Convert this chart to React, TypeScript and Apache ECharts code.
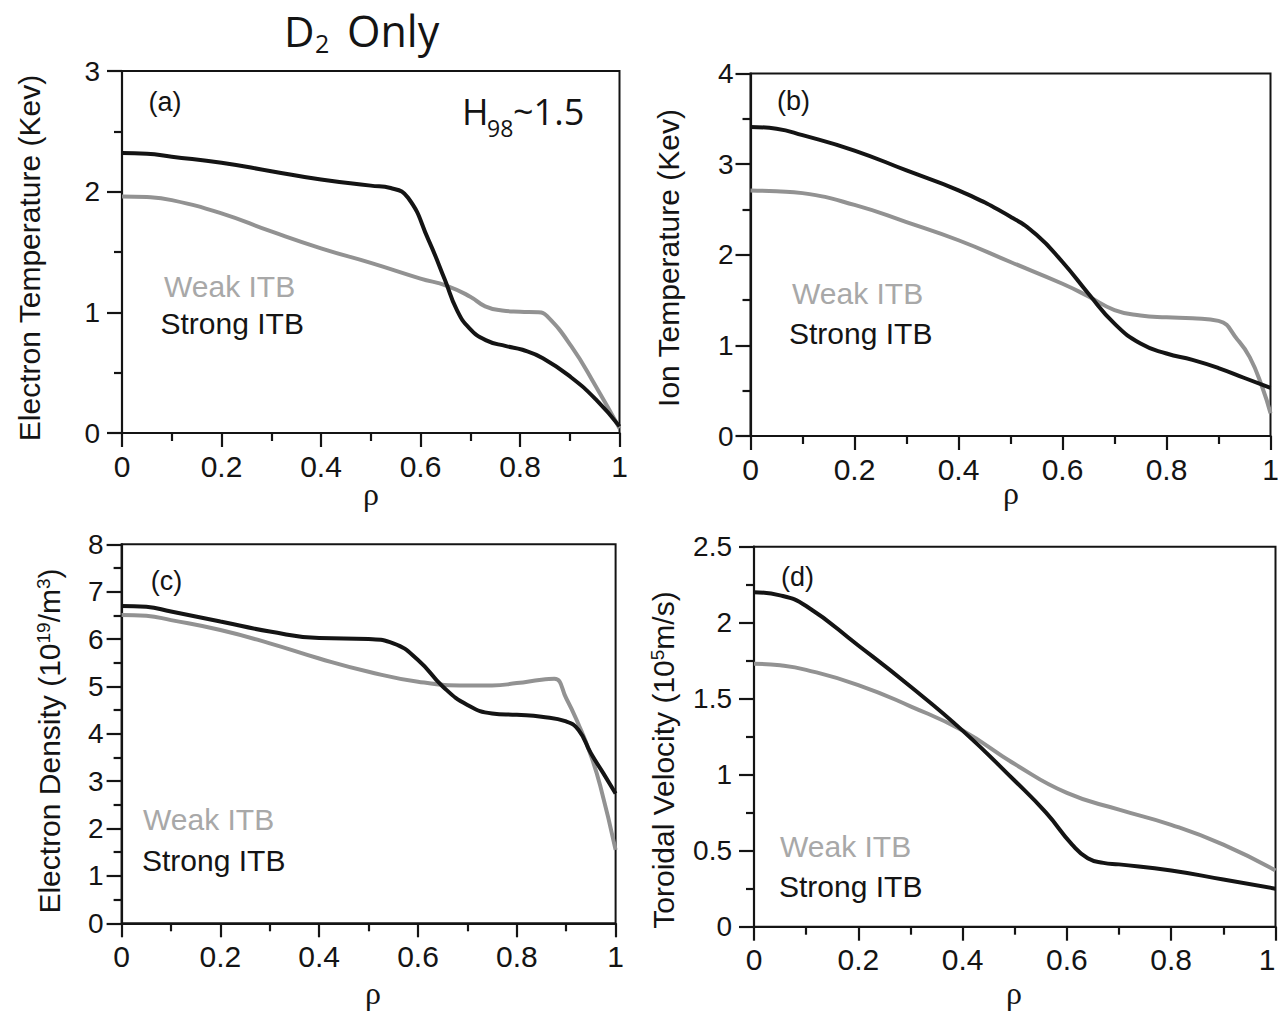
import React, { useEffect, useRef } from "react";
import * as echarts from "echarts";

// ---------- data ----------
// (a) Electron temperature (keV)
const rhoTeWeak = [0, 0.05, 0.1, 0.2, 0.3, 0.4, 0.5, 0.6, 0.653, 0.7, 0.73, 0.764, 0.8, 0.837, 0.854, 0.903, 0.952, 1.0];
const teWeak = [1.96, 1.955, 1.93, 1.82, 1.67, 1.53, 1.41, 1.28, 1.22, 1.13, 1.05, 1.015, 1.005, 1.0, 0.97, 0.72, 0.39, 0.04];
const rhoTeStrong = [0, 0.05, 0.1, 0.2, 0.3, 0.4, 0.5, 0.54, 0.575, 0.616, 0.649, 0.673, 0.698, 0.731, 0.772, 0.805, 0.846, 0.903, 0.952, 1.0];
const teStrong = [2.32, 2.315, 2.29, 2.24, 2.17, 2.1, 2.05, 2.03, 1.95, 1.6, 1.27, 1.02, 0.87, 0.77, 0.72, 0.69, 0.62, 0.46, 0.28, 0.055];

// (b) Ion temperature (keV)
const rhoTiWeak = [0, 0.05, 0.1, 0.2, 0.3, 0.4, 0.5, 0.6, 0.65, 0.7, 0.75, 0.8, 0.85, 0.9, 0.937, 0.96, 0.984, 1.0];
const tiWeak = [2.71, 2.7, 2.68, 2.55, 2.36, 2.16, 1.92, 1.68, 1.54, 1.39, 1.33, 1.31, 1.3, 1.27, 1.06, 0.87, 0.54, 0.25];
const rhoTiStrong = [0, 0.05, 0.1, 0.2, 0.3, 0.4, 0.5, 0.55, 0.6, 0.65, 0.7, 0.75, 0.8, 0.85, 0.9, 0.95, 1.0];
const tiStrong = [3.41, 3.39, 3.32, 3.15, 2.93, 2.71, 2.42, 2.22, 1.92, 1.57, 1.24, 1.02, 0.91, 0.84, 0.75, 0.64, 0.53];

// (c) Electron density (10^19 / m^3)
const rhoNeWeak = [0, 0.05, 0.1, 0.2, 0.3, 0.4, 0.5, 0.6, 0.7, 0.75, 0.8, 0.85, 0.876, 0.9, 0.927, 0.948, 0.969, 1.0];
const neWeak = [6.51, 6.49, 6.4, 6.19, 5.91, 5.59, 5.31, 5.1, 5.02, 5.02, 5.07, 5.14, 5.16, 4.75, 4.15, 3.6, 2.9, 1.55];
const rhoNeStrong = [0, 0.05, 0.1, 0.2, 0.3, 0.4, 0.5, 0.55, 0.6, 0.65, 0.7, 0.75, 0.8, 0.85, 0.9, 0.925, 0.95, 0.975, 1.0];
const neStrong = [6.7, 6.68, 6.58, 6.37, 6.16, 6.02, 6.0, 5.91, 5.56, 5.0, 4.61, 4.43, 4.4, 4.36, 4.26, 4.08, 3.59, 3.17, 2.74];

// (d) Toroidal velocity (10^5 m/s)
const rhoVWeak = [0, 0.05, 0.1, 0.2, 0.3, 0.4, 0.5, 0.6, 0.7, 0.8, 0.9, 1.0];
const vWeak = [1.73, 1.72, 1.69, 1.59, 1.45, 1.29, 1.07, 0.88, 0.77, 0.67, 0.54, 0.37];
const rhoVStrong = [0, 0.05, 0.1, 0.2, 0.3, 0.4, 0.5, 0.56, 0.61, 0.64, 0.67, 0.7, 0.8, 0.9, 1.0];
const vStrong = [2.2, 2.18, 2.11, 1.85, 1.58, 1.29, 0.96, 0.75, 0.54, 0.45, 0.42, 0.41, 0.37, 0.31, 0.25];

const xTicks = { min: 0, max: 1, interval: 0.2 };
const yMaxes = [3, 4, 8, 2.5];
const yIntervals = [1, 1, 1, 0.5];
const panelLetters = ["(a)", "(b)", "(c)", "(d)"];
const seriesNames = ["Weak ITB", "Strong ITB"];

// ---------- styling ----------
const BLACK = "#141414";
const GRAY = "#929292";
const GRAY_TEXT = "#a8a8a8";
const SANS = "'Liberation Sans', Arial, Helvetica, sans-serif";
const TITLE_FONT = "'Open Sans', 'Noto Sans', sans-serif";

const grids = [
  { left: 122, top: 71, width: 497.5, height: 362 },
  { left: 750.5, top: 73.5, width: 520, height: 362.5 },
  { left: 121.6, top: 544.3, width: 494, height: 379 },
  { left: 754, top: 546.7, width: 521.5, height: 380 },
];
const yLabelMargins = [22, 17, 18, 22];

const zip = (xs: number[], ys: number[]) => xs.map((x, i) => [x, ys[i]]);

function buildOption() {
  const pairs = [
    [zip(rhoTeWeak, teWeak), zip(rhoTeStrong, teStrong)],
    [zip(rhoTiWeak, tiWeak), zip(rhoTiStrong, tiStrong)],
    [zip(rhoNeWeak, neWeak), zip(rhoNeStrong, neStrong)],
    [zip(rhoVWeak, vWeak), zip(rhoVStrong, vStrong)],
  ];

  const axisLineStyle = { color: BLACK, width: 2.2 };

  const grid = grids.map((g) => ({
    ...g,
    show: true,
    borderColor: BLACK,
    borderWidth: 2,
    backgroundColor: "transparent",
    containLabel: false,
    outerBoundsMode: "none",
  }));

  const xAxis = grids.map((_, i) => ({
    gridIndex: i,
    type: "value",
    min: xTicks.min,
    max: xTicks.max,
    interval: xTicks.interval,
    axisLine: { show: true, onZero: false, lineStyle: axisLineStyle },
    axisTick: { show: true, inside: false, length: 14, lineStyle: axisLineStyle },
    minorTick: { show: true, splitNumber: 2, length: 8, lineStyle: axisLineStyle },
    splitLine: { show: false },
    axisLabel: {
      fontSize: 30,
      fontFamily: SANS,
      color: BLACK,
      margin: 18,
      alignMaxLabel: i === 3 ? "right" : undefined,
    },
  }));

  const yAxis = grids.map((_, i) => ({
    gridIndex: i,
    type: "value",
    min: 0,
    max: yMaxes[i],
    interval: yIntervals[i],
    axisLine: { show: true, onZero: false, lineStyle: axisLineStyle },
    axisTick: { show: true, inside: false, length: 15, lineStyle: axisLineStyle },
    minorTick: { show: true, splitNumber: 2, length: 8, lineStyle: axisLineStyle },
    splitLine: { show: false },
    axisLabel: { fontSize: 28, fontFamily: SANS, color: BLACK, margin: yLabelMargins[i] },
  }));

  const series: any[] = [];
  pairs.forEach((pp, i) => {
    series.push({
      name: seriesNames[0],
      type: "line",
      xAxisIndex: i,
      yAxisIndex: i,
      data: pp[0],
      showSymbol: false,
      symbol: "none",
      smooth: 0.5,
      lineStyle: { color: GRAY, width: 4 },
      z: 2,
    });
    series.push({
      name: seriesNames[1],
      type: "line",
      xAxisIndex: i,
      yAxisIndex: i,
      data: pp[1],
      showSymbol: false,
      symbol: "none",
      smooth: 0.5,
      lineStyle: { color: BLACK, width: 4 },
      z: 3,
    });
  });

  const txt = (x: number, y: number, text: string, size: number, fill: string, align = "left", family = SANS) => ({
    type: "text",
    x,
    y,
    silent: true,
    style: { text, fontSize: size, fontFamily: family, fill, align, verticalAlign: "middle" },
  });

  const rotTitle = (x: number, y: number, text: string, rich?: any) => ({
    type: "text",
    x,
    y,
    rotation: Math.PI / 2,
    silent: true,
    style: {
      text,
      fontSize: 30,
      fontFamily: SANS,
      fill: BLACK,
      align: "center",
      verticalAlign: "middle",
      rich,
    },
  });

  const richSup = {
    n: { fontSize: 30, fontFamily: SANS, fill: BLACK, verticalAlign: "bottom" },
    s: { fontSize: 19, fontFamily: SANS, fill: BLACK, verticalAlign: "top" },
  };

  const letterPos = [
    [165, 102],
    [793.5, 101],
    [166.5, 581],
    [797.5, 577],
  ];
  const weakPos = [
    [164, 286],
    [792, 293],
    [143, 819],
    [780, 846],
  ];
  const strongPos = [
    [160.5, 323.5],
    [789, 333],
    [142, 860],
    [779, 886],
  ];
  const rhoPos = [
    [371, 494],
    [1011, 493],
    [373, 993],
    [1014, 993],
  ];

  const graphic: any[] = [];
  for (let i = 0; i < 4; i++) {
    graphic.push(txt(letterPos[i][0], letterPos[i][1], panelLetters[i], 27, BLACK, "center"));
    graphic.push(txt(weakPos[i][0], weakPos[i][1], seriesNames[0], 30, GRAY_TEXT));
    graphic.push(txt(strongPos[i][0], strongPos[i][1], seriesNames[1], 30, BLACK));
    graphic.push(txt(rhoPos[i][0], rhoPos[i][1], "ρ", 32, BLACK, "center", "'Liberation Serif', 'DejaVu Serif', serif"));
  }

  // axis titles
  graphic.push(rotTitle(29, 258, "Electron Temperature (Kev)"));
  graphic.push(rotTitle(668, 258, "Ion Temperature (Kev)"));
  graphic.push(rotTitle(49, 741, "{n|Electron Density (10}{s|19}{n|/m}{s|3}{n|)}", richSup));
  graphic.push(rotTitle(663, 760, "{n|Toroidal Velocity (10}{s|5}{n|m/s)}", richSup));

  // main title "D2 Only"
  graphic.push(txt(284, 30, "D", 42, BLACK, "left", TITLE_FONT));
  graphic.push(txt(315, 43, "2", 25, BLACK, "left", TITLE_FONT));
  graphic.push(txt(347, 30, "Only", 43, BLACK, "left", TITLE_FONT));

  // H98~1.5
  graphic.push(txt(462, 111.5, "H", 36, BLACK, "left", TITLE_FONT));
  graphic.push(txt(487, 128, "98", 23, BLACK, "left", TITLE_FONT));
  graphic.push(txt(513, 111.5, "~1.5", 36, BLACK, "left", TITLE_FONT));

  return {
    animation: false,
    backgroundColor: "#ffffff",
    grid,
    xAxis,
    yAxis,
    series,
    graphic: { elements: graphic },
  };
}

export default function App() {
  const ref = useRef<HTMLDivElement>(null);
  useEffect(() => {
    if (!ref.current) return;
    const chart = echarts.init(ref.current, undefined, { renderer: "svg" });
    chart.setOption(buildOption() as any);
    return () => chart.dispose();
  }, []);
  return (
    <div
      ref={ref}
      style={{ position: "absolute", left: 0, top: 0, width: 1278, height: 1011, background: "#fff" }}
    />
  );
}
